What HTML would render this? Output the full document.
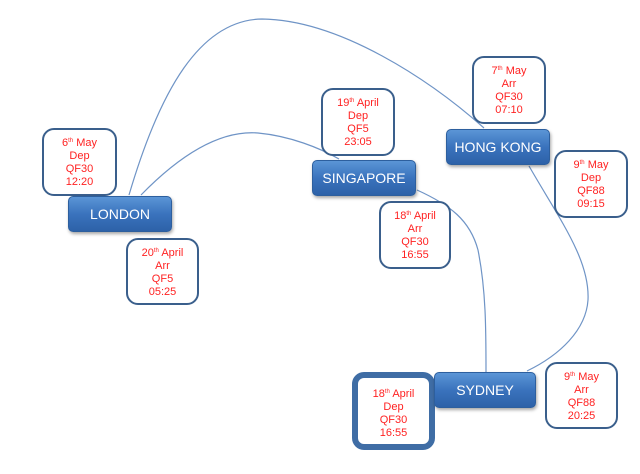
<!DOCTYPE html>
<html><head><style>
body{margin:0;width:640px;height:474px;background:#fff;position:relative;overflow:hidden;font-family:"Liberation Sans",sans-serif}
.n{position:absolute;background:linear-gradient(#5b95d6,#3a73bd 50%,#2d62a8);border-radius:5px;color:#fff;font-size:14px;text-align:center;box-shadow:1px 2px 3px rgba(0,0,0,.35);display:flex;align-items:center;justify-content:center;border:1px solid #2d5f9e;box-sizing:border-box}
.b{position:absolute;background:#fff;border:2px solid #3a5f8c;border-radius:12px;color:#f22;font-size:11px;line-height:13px;text-align:center;box-sizing:border-box;padding-top:7px}
sup{font-size:6px;vertical-align:4px;line-height:0}
svg{position:absolute;left:0;top:0}
</style></head><body>
<svg width="640" height="474"><g fill="none" stroke="#6f94c6" stroke-width="1.2">
<path d="M129,195 C160,90 200,20 262,19 C340,20 430,80 484,128"/>
<path d="M141,195 C180,155 220,130 258,133 C290,136 320,148 339,159"/>
<path d="M417,190 C450,205 470,220 478,250 C486,290 486,330 486,372"/>
<path d="M529,166 C560,220 590,260 588,300 C586,330 560,355 527,371"/>
</g></svg>
<div class="b" style="left:42px;top:128px;width:75px;height:68px">6<sup>th</sup> May<br>Dep<br>QF30<br>12:20</div>
<div class="b" style="left:126px;top:238px;width:73px;height:67px">20<sup>th</sup> April<br>Arr<br>QF5<br>05:25</div>
<div class="b" style="left:321px;top:88px;width:74px;height:68px">19<sup>th</sup> April<br>Dep<br>QF5<br>23:05</div>
<div class="b" style="left:379px;top:201px;width:72px;height:68px">18<sup>th</sup> April<br>Arr<br>QF30<br>16:55</div>
<div class="b" style="left:472px;top:56px;width:74px;height:68px">7<sup>th</sup> May<br>Arr<br>QF30<br>07:10</div>
<div class="b" style="left:554px;top:150px;width:74px;height:68px">9<sup>th</sup> May<br>Dep<br>QF88<br>09:15</div>
<div class="b" style="left:545px;top:362px;width:73px;height:67px">9<sup>th</sup> May<br>Arr<br>QF88<br>20:25</div>
<div class="b" style="left:352px;top:372px;width:83px;height:78px;border:6px solid #3f6da5;padding-top:10px">18<sup>th</sup> April<br>Dep<br>QF30<br>16:55</div>
<div class="n" style="left:68px;top:196px;width:104px;height:36px">LONDON</div>
<div class="n" style="left:312px;top:160px;width:104px;height:36px">SINGAPORE</div>
<div class="n" style="left:446px;top:129px;width:104px;height:36px">HONG KONG</div>
<div class="n" style="left:434px;top:372px;width:102px;height:36px">SYDNEY</div>
</body></html>
